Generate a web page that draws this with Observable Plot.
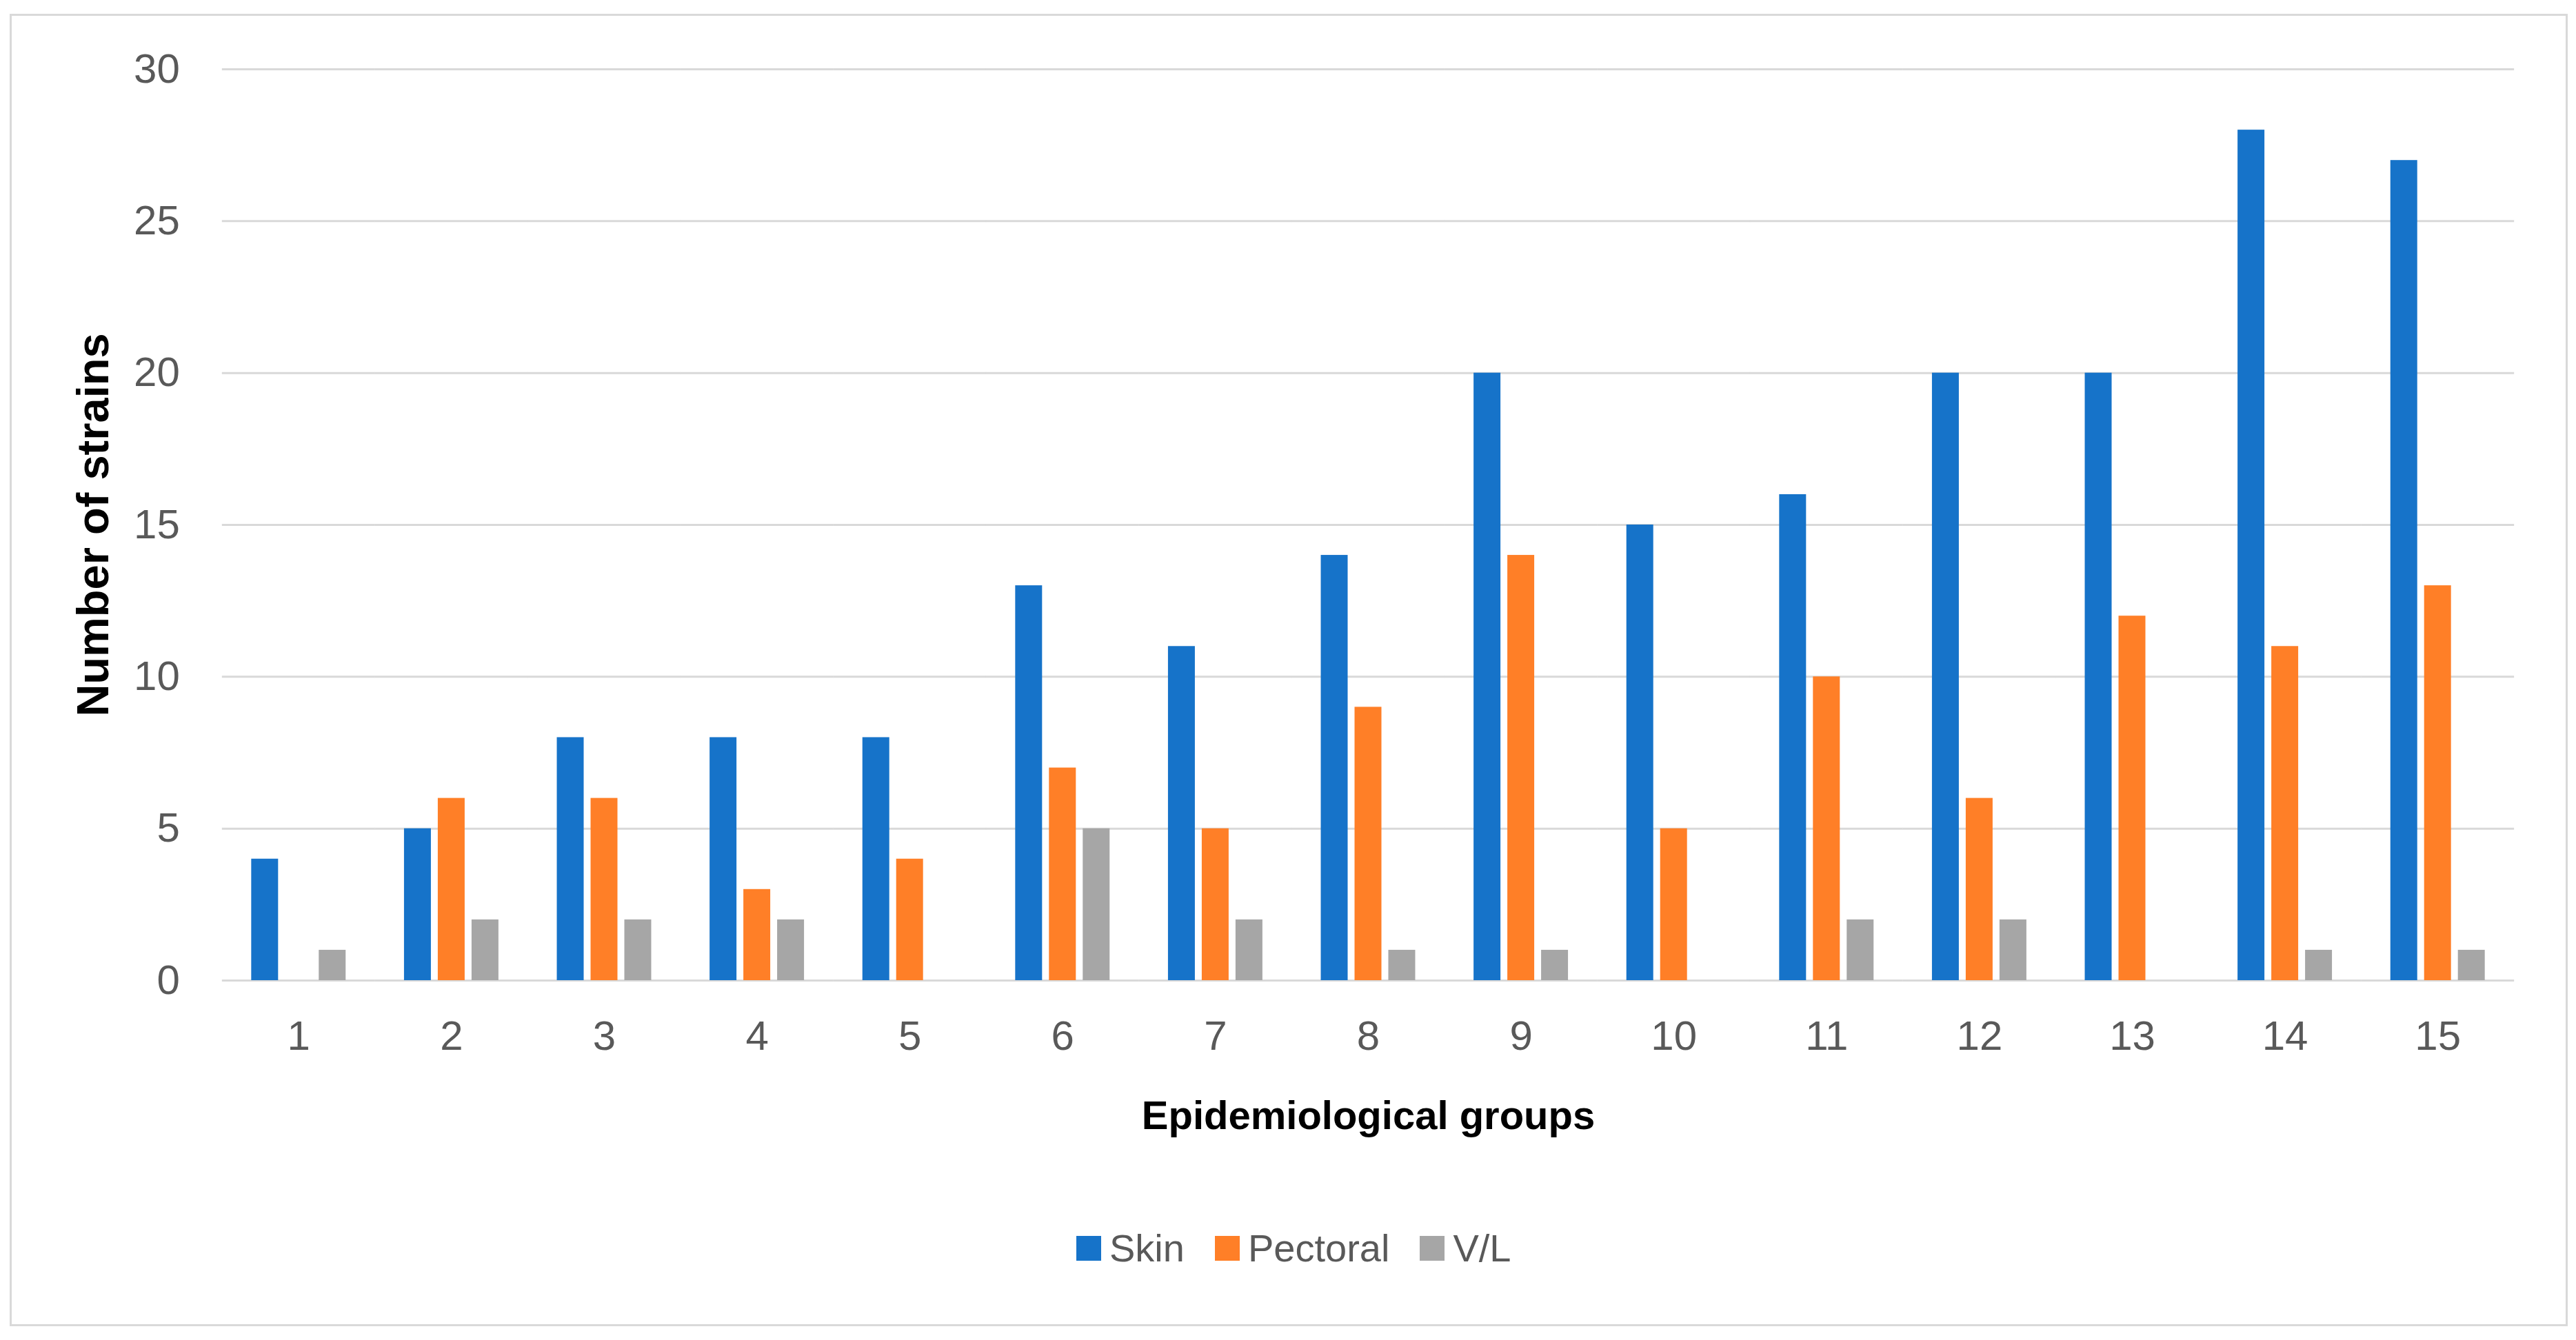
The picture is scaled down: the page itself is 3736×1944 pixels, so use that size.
<!DOCTYPE html>
<html>
<head>
<meta charset="utf-8">
<script src="https://cdn.jsdelivr.net/npm/d3@7"></script>
<script src="https://cdn.jsdelivr.net/npm/@observablehq/plot@0.6"></script>
<style>
  html, body { margin: 0; padding: 0; background: #ffffff; }
  body { position: relative; width: 3736px; height: 1944px; overflow: hidden; }
  #frame { position: absolute; left: 14px; top: 20px; width: 3704px; height: 1898px; border: 3px solid #d9d9d9; box-sizing: content-box; }
  #chart { position: absolute; left: 0; top: 0; }
  #legend { position: absolute; left: 1561px; top: 1778px; display: flex; align-items: center; font-family: "Liberation Sans", Arial, sans-serif; font-size: 56px; color: #595959; }
  #legend .item { display: flex; align-items: center; margin-right: 44px; }
  #legend .sw { width: 36px; height: 36px; margin-right: 12px; }
</style>
</head>
<body>
<div id="frame"></div>
<div id="chart"></div>
<div id="legend"></div>
<script>
// ---- data ----
const groups = ["1","2","3","4","5","6","7","8","9","10","11","12","13","14","15"];
const series = ["Skin", "Pectoral", "V/L"];
const skin     = [4, 5, 8, 8, 8, 13, 11, 14, 20, 15, 16, 20, 20, 28, 27];
const pectoral = [0, 6, 6, 3, 4, 7, 5, 9, 14, 5, 10, 6, 12, 11, 13];
const vl       = [1, 2, 2, 2, 0, 5, 2, 1, 1, 0, 2, 2, 0, 1, 1];
const colors = ["#1673C9", "#FF7F27", "#A6A6A6"];
const yTicks = [0, 5, 10, 15, 20, 25, 30];
const xTitle = "Epidemiological groups";
const yTitle = "Number of strains";

const seriesValues = [skin, pectoral, vl];
const rows = [];
groups.forEach((g, i) => {
  series.forEach((s, j) => rows.push({group: g, series: s, value: seriesValues[j][i]}));
});

// ---- layout ----
const W = 3736, H = 1700;
const mL = 322, mR = 90, mT = 100, mB = H - 1422;

const plot = Plot.plot({
  width: W,
  height: H,
  marginLeft: mL, marginRight: mR, marginTop: mT, marginBottom: mB,
  facet: {data: rows, x: "group", marginLeft: mL, marginRight: mR, marginTop: mT, marginBottom: mB},
  fx: {
    domain: groups, paddingInner: 0.382, paddingOuter: 0.191, round: false,
    axis: "bottom", tickSize: 0, tickPadding: 58,
    label: xTitle, labelAnchor: "center", labelOffset: 215
  },
  x: {domain: series, paddingInner: 0.204, paddingOuter: 0, round: false, axis: null},
  y: {
    domain: [0, 30], ticks: yTicks, tickSize: 0, tickPadding: 104,
    label: yTitle, labelAnchor: "center", labelOffset: 254
  },
  color: {domain: series, range: colors},
  style: {
    fontFamily: '"Liberation Sans", Arial, sans-serif',
    fontSize: "60px",
    color: "#595959",
    background: "transparent",
    overflow: "visible"
  },
  marks: [
    Plot.ruleY(yTicks, {stroke: "#d9d9d9", strokeWidth: 3, insetLeft: -42.5, insetRight: -42.5}),
    Plot.barY(rows, {x: "series", y: "value", fill: "series"})
  ]
});
document.getElementById("chart").appendChild(plot);

// style axis titles (and drop the direction arrow)
d3.select(plot).selectAll("text").each(function() {
  const t = this.textContent;
  if (t.includes(xTitle)) {
    d3.select(this).text(xTitle).attr("font-size", 58).attr("font-weight", "bold").attr("fill", "#000");
  } else if (t.includes(yTitle)) {
    d3.select(this).text(yTitle).attr("font-size", 65).attr("font-weight", "bold").attr("fill", "#000");
  }
});

// legend
const legend = d3.select("#legend");
series.forEach((s, i) => {
  const it = legend.append("div").attr("class", "item");
  it.append("div").attr("class", "sw").style("background", colors[i]);
  it.append("span").text(s);
});
</script>
</body>
</html>
